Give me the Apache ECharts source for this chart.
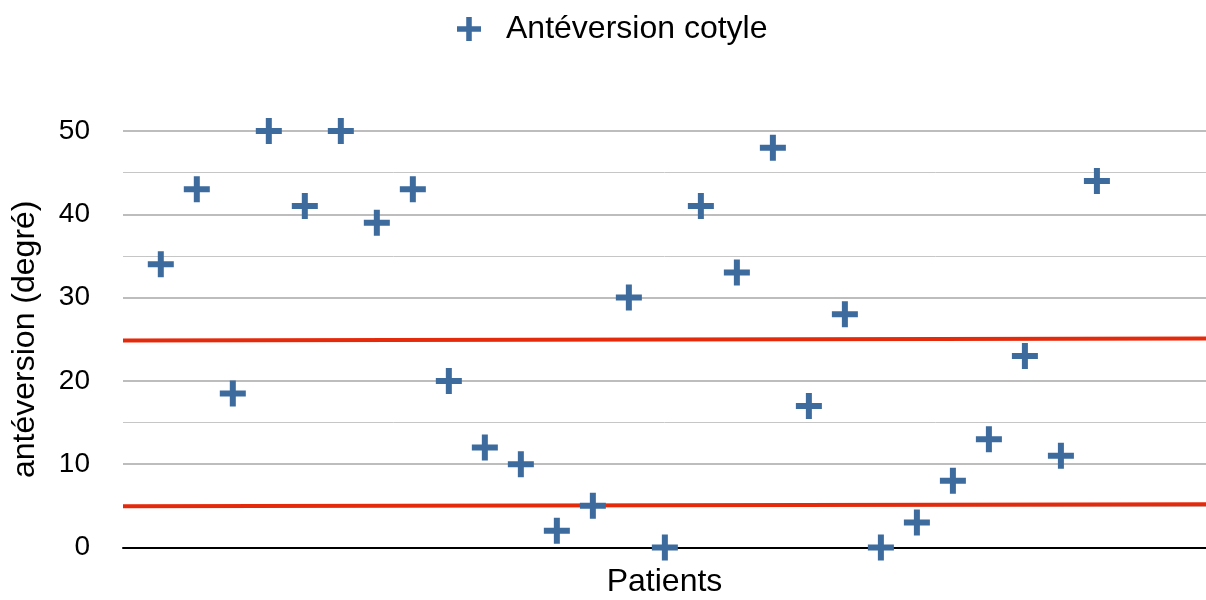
<!DOCTYPE html>
<html>
<head>
<meta charset="utf-8">
<script src="https://cdn.jsdelivr.net/npm/echarts@6/dist/echarts.min.js"></script>
<style>html,body{margin:0;padding:0;background:#fff}#c{width:1206px;height:600px}</style>
</head>
<body>
<div id="c"></div>
<script>
var patients = [1,2,3,4,5,6,7,8,9,10,11,12,13,14,15,16,17,18,19,20,21,22,23,24,25,26,27];
var anteversion = [34,43,18.5,50,41,50,39,43,20,12,10,2,5,30,0,41,33,48,17,28,0,3,8,13,23,11,44];
var upperLimit = [[-0.05,24.84],[30.03,25.08]];
var lowerLimit = [[-0.05,4.96],[30.03,5.2]];
var yTicks = [0,10,20,30,40,50];

var plus = 'path://M10,0H16V10H26V16H16V26H10V16H0V10H10Z';
var font = '"Liberation Sans", Helvetica, Arial, sans-serif';
var chart = echarts.init(document.getElementById('c'));
chart.setOption({
  animation:false,
  legend:{
    left:452, top:8,
    itemWidth:24, itemHeight:24,
    data:[{name:'Antéversion cotyle', icon:plus}],
    textStyle:{fontFamily:font, fontSize:32, color:'#000', padding:[0,0,0,20]}
  },
  grid:{left:123, right:0, top:131, bottom:52.5, outerBoundsMode:'none', containLabel:false},
  xAxis:{
    type:'value', min:-0.05, max:30.03,
    name:'Patients', nameLocation:'middle', nameGap:19,
    nameTextStyle:{fontFamily:font, fontSize:32, color:'#000', verticalAlign:'top'},
    axisLine:{show:true, onZero:false, lineStyle:{color:'#000', width:2}},
    axisTick:{show:false}, axisLabel:{show:false}, splitLine:{show:false}
  },
  yAxis:{
    type:'value', min:yTicks[0], max:yTicks[yTicks.length-1], interval:10,
    name:'antéversion (degré)', nameLocation:'middle', nameGap:82,
    nameTextStyle:{fontFamily:font, fontSize:32, color:'#000'},
    axisLine:{show:false}, axisTick:{show:false},
    axisLabel:{fontFamily:font, fontSize:28, color:'#000', margin:33},
    splitLine:{lineStyle:{color:'#bdbdbd', width:2}},
    minorTick:{show:false, splitNumber:2},
    minorSplitLine:{show:true, lineStyle:{color:'#c6c6c6', width:1}}
  },
  series:[
    {type:'line', data:upperLimit, symbol:'none', silent:true, lineStyle:{color:'#e52a0c', width:4}, z:3},
    {type:'line', data:lowerLimit, symbol:'none', silent:true, lineStyle:{color:'#e52a0c', width:4}, z:3},
    {name:'Antéversion cotyle', type:'scatter', symbol:plus, symbolSize:26,
     itemStyle:{color:'#3d6b9e', opacity:1}, z:5,
     data: patients.map(function(p,i){return [p, anteversion[i]];})}
  ]
});
</script>
</body>
</html>
